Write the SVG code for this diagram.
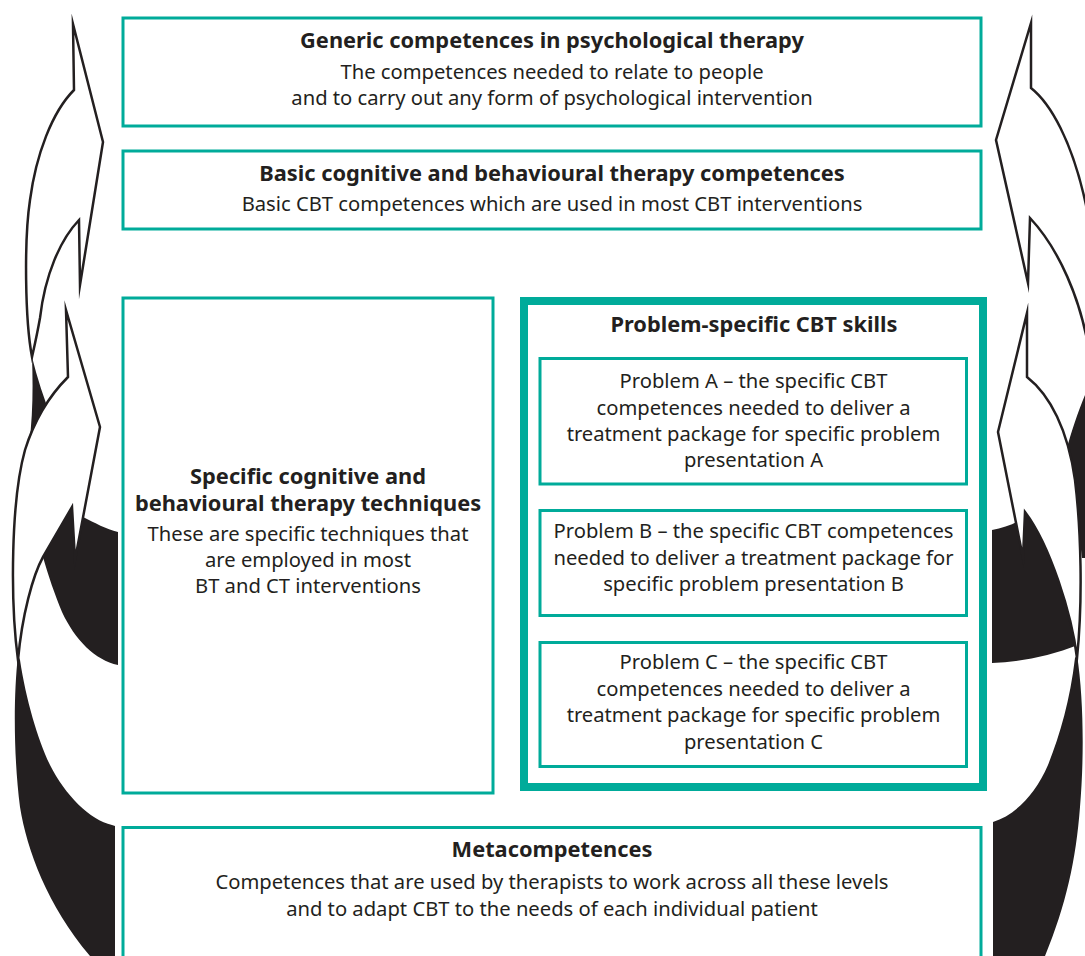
<svg xmlns="http://www.w3.org/2000/svg" width="1085" height="956" viewBox="0 0 1085 956">
<style>
.box{fill:#fff;stroke:#00ab9a;stroke-width:3}
.outer{fill:#fff;stroke:#00ab9a;stroke-width:8}
.arr{fill:#fff;stroke:#231f20;stroke-width:2.5;stroke-linejoin:miter;stroke-miterlimit:20}
.blk{fill:#231f20;stroke:none}
text{font-family:"Noto Sans","Open Sans","Liberation Sans",sans-serif;fill:#231f20;text-anchor:middle}
.t{font-size:21.8px;font-weight:bold}
.r{font-size:20.2px}
</style>
<rect width="1085" height="956" fill="#fff"/>
<g id="connectors">
  <!-- left side -->
  <path class="blk" d="M 32,357 C 33,385 33,415 29,446 L 45,470 L 83,517 C 95,523 106,529 118,532 L 118,665 C 95,660 75,640 62,612 C 55,595 48,575 43,557 L 38,480 L 52,420 C 44,398 37,378 32,357 Z"/>
  <path class="blk" d="M 18,655 C 13,700 14,760 20,807 C 27,850 47,905 90,956 L 115,956 L 115,826 L 112,825 C 90,820 65,795 50,765 C 38,740 26,700 20,660 Z"/>
  <path class="arr" d="M 66,310 L 100,427 L 75,560 L 72,507 L 43,557 C 33,575 22,615 18,660 C 10,600 11,500 25,450 C 35,418 50,395 68,377 Z"/>
  <path class="arr" d="M 73,24 L 103,142 L 80,285 L 79,220 C 60,240 45,275 40,318 C 37,335 34,348 32,357 C 25,320 24,240 30,200 C 36,155 52,112 74,90 Z"/>
  <!-- right side -->
  <path class="blk" d="M 992,530 C 1002,528 1012,525 1020,520 L 1027,512 C 1052,540 1068,590 1078,645 C 1050,656 1020,662 992,663 Z"/>
  <path class="blk" d="M 1085,395 C 1078,412 1071,432 1066,452 L 1075,500 L 1082,558 L 1090,558 L 1090,395 Z"/>
  <path class="blk" d="M 1077,655 C 1084,700 1084,760 1080,807 C 1076,860 1066,905 1045,956 L 993,956 L 993,822 C 1015,815 1035,795 1048,765 C 1060,735 1070,700 1075,658 Z"/>
  <path class="arr" d="M 1027,313 L 1027,377 C 1050,395 1068,430 1075,480 C 1081,530 1083,600 1077,658 C 1072,615 1050,545 1025,512 L 1023,558 L 998,432 Z"/>
  <path class="arr" d="M 1031,23 L 1031,88 C 1050,103 1072,140 1086,205 L 1095,260 L 1095,345 L 1088,345 C 1080,300 1060,250 1030,218 L 1028,283 L 996,140 Z"/>
</g>
<g id="generic">
  <rect class="box" x="123" y="18" width="858" height="108"/>
  <text class="t" x="552" y="48">Generic competences in psychological therapy</text>
  <text class="r" x="552" y="79">The competences needed to relate to people</text>
  <text class="r" x="552" y="105">and to carry out any form of psychological intervention</text>
</g>
<g id="basic">
  <rect class="box" x="123" y="151" width="858" height="78"/>
  <text class="t" x="552" y="181">Basic cognitive and behavioural therapy competences</text>
  <text class="r" x="552" y="211">Basic CBT competences which are used in most CBT interventions</text>
</g>
<g id="specific">
  <rect class="box" x="123" y="298" width="370" height="495"/>
  <text class="t" x="308" y="484" font-size="21.4">Specific cognitive and</text>
  <text class="t" x="308" y="511" font-size="21.4">behavioural therapy techniques</text>
  <text class="r" x="308" y="541">These are specific techniques that</text>
  <text class="r" x="308" y="567">are employed in most</text>
  <text class="r" x="308" y="593">BT and CT interventions</text>
</g>
<g id="problem-specific">
  <rect class="outer" x="524" y="301" width="459" height="486"/>
  <text class="t" x="754" y="332">Problem-specific CBT skills</text>
</g>
<g id="problem-a">
  <rect class="box" x="540" y="358.5" width="426.5" height="125.5"/>
  <text class="r" x="753.5" y="388">Problem A – the specific CBT</text>
  <text class="r" x="753.5" y="415">competences needed to deliver a</text>
  <text class="r" x="753.5" y="441">treatment package for specific problem</text>
  <text class="r" x="753.5" y="467">presentation A</text>
</g>
<g id="problem-b">
  <rect class="box" x="540" y="510.5" width="426.5" height="105"/>
  <text class="r" x="753.5" y="538">Problem B – the specific CBT competences</text>
  <text class="r" x="753.5" y="565">needed to deliver a treatment package for</text>
  <text class="r" x="753.5" y="591">specific problem presentation B</text>
</g>
<g id="problem-c">
  <rect class="box" x="540" y="642.5" width="426.5" height="124"/>
  <text class="r" x="753.5" y="669">Problem C – the specific CBT</text>
  <text class="r" x="753.5" y="696">competences needed to deliver a</text>
  <text class="r" x="753.5" y="722">treatment package for specific problem</text>
  <text class="r" x="753.5" y="749">presentation C</text>
</g>
<g id="metacompetences">
  <rect class="box" x="123" y="827.5" width="858" height="140"/>
  <text class="t" x="552" y="857">Metacompetences</text>
  <text class="r" x="552" y="889">Competences that are used by therapists to work across all these levels</text>
  <text class="r" x="552" y="916">and to adapt CBT to the needs of each individual patient</text>
</g>
</svg>
